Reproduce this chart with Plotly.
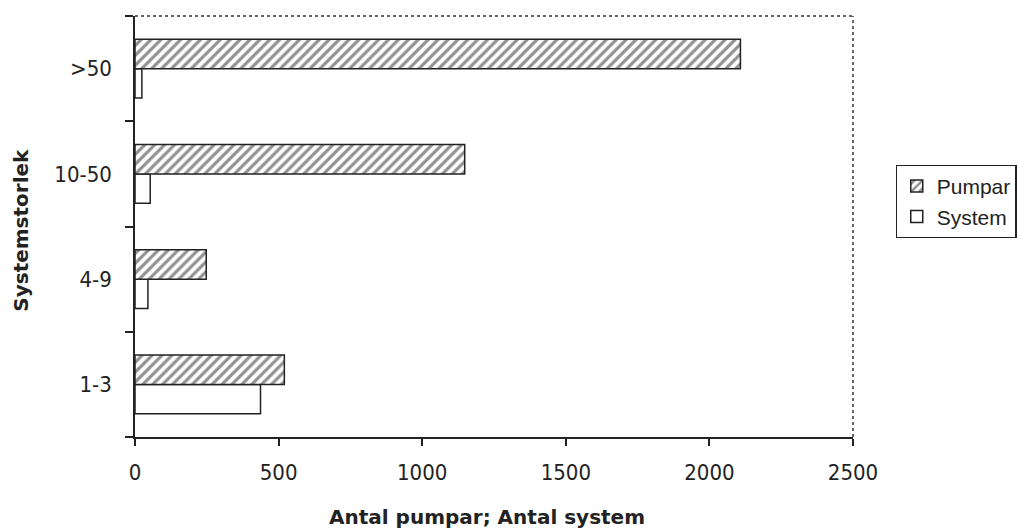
import plotly.graph_objects as go

categories = ["1-3", "4-9", "10-50", ">50"]
pumpar = [520, 248, 1148, 2108]
system = [437, 45, 53, 24]
x_ticks = [0, 500, 1000, 1500, 2000, 2500]

tick_font = dict(family="DejaVu Sans Condensed, Liberation Sans Narrow, DejaVu Sans", size=22, color="#222")
title_font = dict(family="DejaVu Sans, Verdana", size=20, color="#222")

fig = go.Figure()
fig.add_trace(go.Bar(
    y=categories, x=system, orientation="h", name="System",
    marker=dict(color="white", line=dict(color="#222", width=1.5)),
    legendrank=2,
))
fig.add_trace(go.Bar(
    y=categories, x=pumpar, orientation="h", name="Pumpar",
    marker=dict(color="white", line=dict(color="#222", width=1.5),
                pattern=dict(shape="/", fgcolor="#222", bgcolor="white", size=7, solidity=0.45)),
    legendrank=1,
))

fig.update_layout(
    width=1020, height=531,
    margin=dict(l=135, r=167, t=16, b=94, autoexpand=False),
    paper_bgcolor="white", plot_bgcolor="white",
    barmode="group", bargap=0.44, bargroupgap=0,
    showlegend=True,
    legend=dict(xref="container", yref="container", x=0.878, y=0.621,
                xanchor="left", yanchor="middle",
                bordercolor="#222", borderwidth=1.2,
                font=dict(family="Liberation Sans, Arial", size=21, color="#222"),
                itemwidth=30, tracegroupgap=2),
    xaxis=dict(range=[0, 2500], tickvals=x_ticks, ticktext=[str(v) for v in x_ticks],
               showgrid=False, zeroline=False, showline=True, linecolor="#222", linewidth=1.5,
               ticks="outside", ticklen=7, tickwidth=1.5, tickcolor="#222",
               tickfont=tick_font, ticklabelstandoff=8),
    yaxis=dict(categoryorder="array", categoryarray=categories,
               showgrid=False, zeroline=False, showline=True, linecolor="#222", linewidth=1.5,
               ticks="outside", tickson="boundaries", ticklen=8, tickwidth=1.5, tickcolor="#222",
               tickfont=tick_font, ticklabelstandoff=17),
    annotations=[
        dict(text="<b>Antal pumpar; Antal system</b>", xref="paper", yref="paper",
             x=0.49, y=-0.19, xanchor="center", yanchor="middle", showarrow=False, font=title_font),
        dict(text="<b>Systemstorlek</b>", xref="paper", yref="paper", textangle=-90,
             x=-0.159, y=0.492, xanchor="center", yanchor="middle", showarrow=False, font=title_font),
    ],
)

# dotted top and right frame of the plot area
fig.add_shape(type="line", xref="paper", yref="paper", x0=0, x1=1, y0=1, y1=1,
              line=dict(color="#333", width=1.5, dash="dot"))
fig.add_shape(type="line", xref="paper", yref="paper", x0=1, x1=1, y0=0, y1=1,
              line=dict(color="#333", width=1.5, dash="dot"))

fig.write_html("out.html")
